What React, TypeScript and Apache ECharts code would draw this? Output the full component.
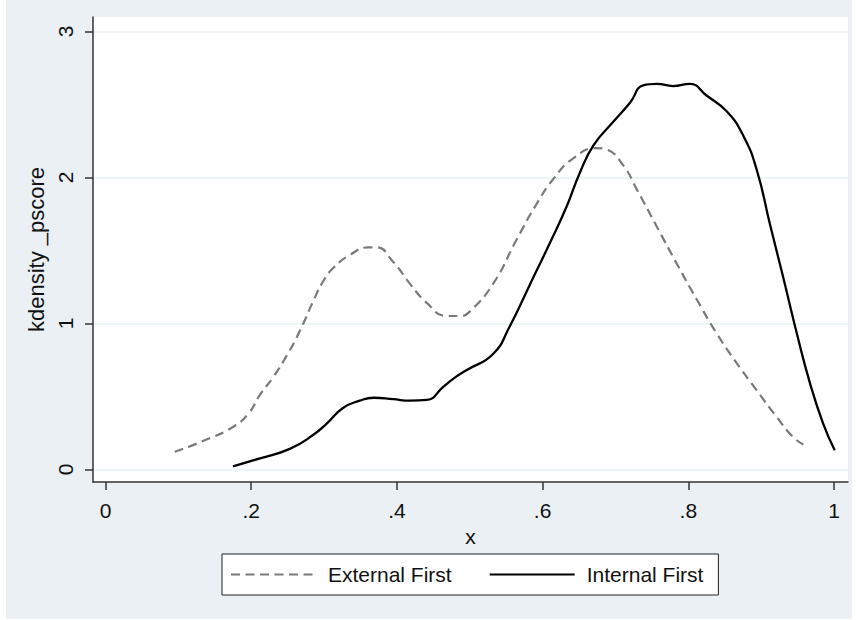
import React, { useEffect, useRef } from "react";
import * as echarts from "echarts";

const seriesNames = ["External First", "Internal First"];

const externalX = [0.095, 0.137, 0.175, 0.196, 0.212, 0.230, 0.249, 0.267, 0.285, 0.299, 0.313, 0.336, 0.361, 0.372, 0.395, 0.418, 0.441, 0.468, 0.487, 0.500, 0.532, 0.564, 0.592, 0.615, 0.642, 0.674, 0.688, 0.711, 0.729, 0.757, 0.784, 0.812, 0.839, 0.866, 0.894, 0.921, 0.944, 0.958];
const externalY = [0.12, 0.20, 0.29, 0.38, 0.51, 0.63, 0.78, 0.95, 1.15, 1.29, 1.38, 1.47, 1.52, 1.52, 1.42, 1.27, 1.14, 1.05, 1.05, 1.08, 1.27, 1.57, 1.82, 1.99, 2.13, 2.20, 2.19, 2.08, 1.92, 1.66, 1.41, 1.16, 0.93, 0.73, 0.54, 0.36, 0.22, 0.17];

const internalX = [0.175, 0.212, 0.253, 0.285, 0.304, 0.326, 0.349, 0.368, 0.395, 0.418, 0.441, 0.464, 0.480, 0.496, 0.532, 0.555, 0.583, 0.610, 0.633, 0.651, 0.670, 0.697, 0.720, 0.738, 0.757, 0.779, 0.802, 0.825, 0.853, 0.876, 0.894, 0.912, 0.930, 0.949, 0.967, 0.985, 1.001];
const internalY = [0.02, 0.075, 0.14, 0.235, 0.315, 0.42, 0.47, 0.49, 0.48, 0.47, 0.475, 0.566, 0.63, 0.68, 0.79, 0.98, 1.27, 1.55, 1.80, 2.03, 2.22, 2.38, 2.51, 2.63, 2.64, 2.625, 2.64, 2.56, 2.45, 2.28, 2.05, 1.68, 1.32, 0.93, 0.59, 0.315, 0.13];

const xTickValues = [0, 0.2, 0.4, 0.6, 0.8, 1];
const xTickLabels = ["0", ".2", ".4", ".6", ".8", "1"];
const yTickValues = [0, 1, 2, 3];
const yTickLabels = ["0", "1", "2", "3"];

const xTitle = "x";
const yTitle = "kdensity _pscore";

const FONT = "'Liberation Sans', Arial, Helvetica, sans-serif";

export default function App() {
  const ref = useRef<HTMLDivElement>(null);

  useEffect(() => {
    if (!ref.current) return;
    const chart = echarts.init(ref.current, undefined, { renderer: "svg" });

    const pairs = (xs: number[], ys: number[]) => xs.map((x, i) => [x, ys[i]]);
    const fmt = (vals: number[], labels: string[]) => (v: number) => {
      const i = vals.findIndex((t) => Math.abs(t - v) < 1e-6);
      return i >= 0 ? labels[i] : "";
    };

    chart.setOption({
      animation: false,
      backgroundColor: "#ffffff",
      textStyle: { fontFamily: FONT },
      graphic: [
        {
          type: "rect",
          z: -100,
          silent: true,
          shape: { x: 6, y: 0, width: 846, height: 619 },
          style: { fill: "#eaf0f3" },
        },
      ],
      grid: {
        left: 93,
        top: 17,
        right: 12,
        bottom: 138,
        show: true,
        backgroundColor: "#ffffff",
        borderWidth: 0,
        containLabel: false,
      },
      legend: {
        data: seriesNames,
        left: 222,
        top: 554,
        orient: "horizontal",
        itemWidth: 85,
        itemHeight: 14,
        itemGap: 37,
        padding: [10, 15, 10, 8],
        backgroundColor: "#ffffff",
        borderColor: "#222222",
        borderWidth: 1,
        borderRadius: 0,
        itemStyle: { opacity: 0, borderWidth: 0 },
        textStyle: {
          fontSize: 21,
          color: "#111111",
          fontFamily: FONT,
          padding: [0, 0, 0, 7],
        },
      },
      xAxis: {
        type: "value",
        min: -0.01716,
        max: 1.01922,
        name: xTitle,
        nameLocation: "middle",
        nameGap: 37,
        nameTextStyle: { fontSize: 21, color: "#111111", fontFamily: FONT },
        axisLine: { show: true, onZero: false, lineStyle: { color: "#333333", width: 1.5 } },
        axisTick: {
          show: true,
          inside: false,
          length: 8,
          customValues: xTickValues,
          lineStyle: { color: "#333333", width: 1.5 },
        },
        axisLabel: {
          customValues: xTickValues,
          formatter: fmt(xTickValues, xTickLabels),
          fontSize: 21,
          color: "#111111",
          margin: 18,
          fontFamily: FONT,
        },
        splitLine: { show: false },
      },
      yAxis: {
        type: "value",
        min: -0.08699,
        max: 3.0979,
        name: yTitle,
        nameLocation: "middle",
        nameRotate: 90,
        nameGap: 38,
        nameTextStyle: { fontSize: 22, color: "#111111", fontFamily: FONT },
        axisLine: { show: true, onZero: false, lineStyle: { color: "#333333", width: 1.5 } },
        axisTick: {
          show: true,
          inside: false,
          length: 8,
          customValues: yTickValues,
          lineStyle: { color: "#333333", width: 1.5 },
        },
        axisLabel: {
          customValues: yTickValues,
          formatter: fmt(yTickValues, yTickLabels),
          fontSize: 21,
          color: "#111111",
          rotate: 90,
          margin: 17,
          fontFamily: FONT,
        },
        splitLine: { show: true, lineStyle: { color: "#eaf0f3", width: 1.5 } },
      },
      series: [
        {
          name: seriesNames[0],
          type: "line",
          data: pairs(externalX, externalY),
          showSymbol: false,
          symbol: "none",
          smooth: 0.5,
          lineStyle: { color: "#7a7a7a", width: 2.2, type: [9, 5.5] },
          itemStyle: { color: "#7a7a7a" },
        },
        {
          name: seriesNames[1],
          type: "line",
          data: pairs(internalX, internalY),
          showSymbol: false,
          symbol: "none",
          smooth: 0.5,
          lineStyle: { color: "#000000", width: 2.3, type: "solid" },
          itemStyle: { color: "#000000" },
        },
      ],
    });

    return () => chart.dispose();
  }, []);

  return (
    <div
      ref={ref}
      style={{ position: "fixed", left: 0, top: 0, width: 860, height: 620 }}
    />
  );
}
